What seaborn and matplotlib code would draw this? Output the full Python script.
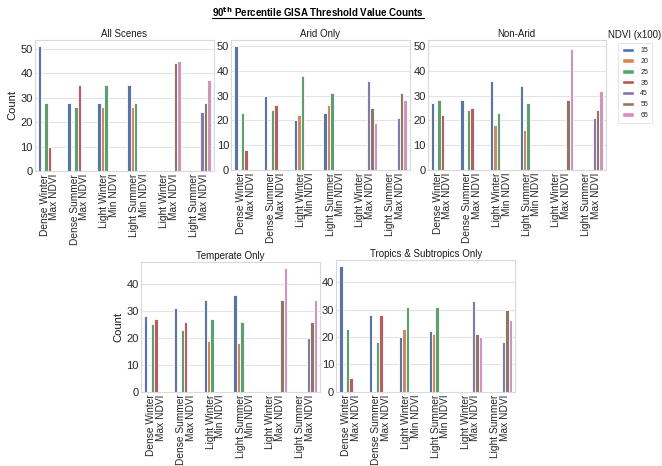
import numpy as np
import pandas as pd
import matplotlib
matplotlib.use("Agg")
import matplotlib.pyplot as plt
from matplotlib.lines import Line2D
from matplotlib.patches import Patch
import seaborn as sns

# ---------------- data ----------------
categories = ["Dense Winter\nMax NDVI", "Dense Summer\nMax NDVI", "Light Winter\nMin NDVI",
              "Light Summer\nMin NDVI", "Light Winter\nMax NDVI", "Light Summer\nMax NDVI"]
ndvi_levels = ["15", "20", "25", "35", "45", "55", "65"]
N = np.nan
# rows = categories, columns = NDVI levels (15,20,25,35,45,55,65)
all_scenes = [[51, N, 28, 10, N, N, N],
              [28, N, 26, 35, N, N, N],
              [28, 26, 35, N, N, N, N],
              [35, 26, 28, N, N, N, N],
              [N, N, N, N, N, 44, 45],
              [N, N, N, N, 24, 28, 37]]
arid_only = [[50, N, 23, 8, N, N, N],
             [30, N, 24, 26, N, N, N],
             [20, 22, 38, N, N, N, N],
             [23, 26, 31, N, N, N, N],
             [N, N, N, N, 36, 25, 19],
             [N, N, N, N, 21, 31, 28]]
non_arid = [[27, N, 28, 22, N, N, N],
            [28, N, 24, 25, N, N, N],
            [36, 18, 23, N, N, N, N],
            [34, 16, 27, N, N, N, N],
            [N, N, N, N, N, 28, 49],
            [N, N, N, N, 21, 24, 32]]
temperate_only = [[28, N, 25, 27, N, N, N],
                  [31, N, 23, 26, N, N, N],
                  [34, 19, 27, N, N, N, N],
                  [36, 18, 26, N, N, N, N],
                  [N, N, N, N, N, 34, 46],
                  [N, N, N, N, 20, 26, 34]]
tropics_only = [[46, N, 23, 5, N, N, N],
                [28, N, 18, 28, N, N, N],
                [20, 23, 31, N, N, N, N],
                [22, 21, 31, N, N, N, N],
                [N, N, N, N, 33, 21, 20],
                [N, N, N, N, 18, 30, 26]]
panel_titles = ["All Scenes", "Arid Only", "Non-Arid", "Temperate Only", "Tropics & Subtropics Only"]
panel_data = [all_scenes, arid_only, non_arid, temperate_only, tropics_only]
yticks_top = [0, 10, 20, 30, 40, 50]
yticks_bottom = [0, 10, 20, 30, 40]

# ---------------- style ----------------
sns.set_theme(style="whitegrid", palette="deep")
plt.rcParams["font.family"] = ["Liberation Sans", "DejaVu Sans"]
palette = sns.color_palette("deep", len(ndvi_levels))

W, H = 662, 466
fig = plt.figure(figsize=(W / 100, H / 100), dpi=100)

def px_axes(x0, x1, ytop, ybot):
    return fig.add_axes([x0 / W, (H - ybot) / H, (x1 - x0) / W, (ybot - ytop) / H])

boxes = [(34.6, 213.7, 40, 171), (231.3, 409.7, 40, 169.5), (427.6, 605.7, 40, 169.5),
         (141, 320, 261.7, 391.7), (336.3, 515, 259.5, 391.5)]
ytops = [None, 52.5, 52.5, None, None]

for i, (title, data, box) in enumerate(zip(panel_titles, panel_data, boxes)):
    ax = px_axes(*box)
    rows = []
    for ci, cat in enumerate(categories):
        for li, lvl in enumerate(ndvi_levels):
            v = data[ci][li]
            if not np.isnan(v):
                rows.append({"cat": cat, "ndvi": lvl, "count": v})
    df = pd.DataFrame(rows)
    sns.barplot(data=df, x="cat", y="count", hue="ndvi", order=categories,
                hue_order=ndvi_levels, palette=palette, errorbar=None,
                legend=False, ax=ax, linewidth=0.6, edgecolor="white")
    ax.set_title(title, fontsize=7, pad=2, color="0.1")
    ax.set_xlabel("")
    if i in (0, 3):
        ax.set_ylabel("Count", fontsize=8, labelpad=2, color="0.1")
    else:
        ax.set_ylabel("")
    ax.set_yticks(yticks_top if i < 3 else yticks_bottom)
    if ytops[i] is not None:
        ax.set_ylim(0, ytops[i])
    ax.tick_params(axis="y", labelsize=8, pad=1.5, length=0, colors="0.15")
    ax.tick_params(axis="x", labelsize=7.3, pad=2, length=0, colors="0.15")
    for t in ax.get_xticklabels():
        t.set_rotation(90)
        t.set_multialignment("right")
        t.set_linespacing(0.95)
    ax.set_xlim(-0.5, len(categories) - 0.5)
    for s in ax.spines.values():
        s.set_color("#d9d9d9")
        s.set_linewidth(0.8)
    ax.grid(axis="y", color="#e3e3e3", linewidth=0.8)
    ax.grid(axis="x", visible=False)

# legend
handles = [Patch(facecolor=palette[k], edgecolor="white", label=lvl) for k, lvl in enumerate(ndvi_levels)]
leg = fig.legend(handles=handles, loc="upper left", bbox_to_anchor=(618 / W, 1 - 43 / H),
                 fontsize=5, frameon=True, handlelength=1.7, handleheight=0.6,
                 labelspacing=0.55, borderpad=0.6, handletextpad=0.9, borderaxespad=0)
leg.get_frame().set_edgecolor("#d9d9d9")
leg.get_frame().set_linewidth(0.6)
fig.text(608 / W, 1 - 35 / H, "NDVI (x100)", fontsize=7, va="center", ha="left", color="0.1")

# figure title with superscript and underline
t = fig.text(318 / W, 1 - 12.5 / H, r"90$^{\mathrm{\mathbf{th}}}$ Percentile GISA Threshold Value Counts",
             ha="center", va="center", fontsize=7, fontweight="bold", color="black")
fig.canvas.draw()
bb = t.get_window_extent(renderer=fig.canvas.get_renderer())
inv = fig.transFigure.inverted()
(x0, y0), (x1, y1) = inv.transform([(bb.x0, bb.y0), (bb.x1, bb.y1)])
fig.add_artist(Line2D([x0, x1], [1 - 18 / H] * 2, color="black", linewidth=0.8,
                      transform=fig.transFigure))

fig.savefig("out.png", dpi=100)
